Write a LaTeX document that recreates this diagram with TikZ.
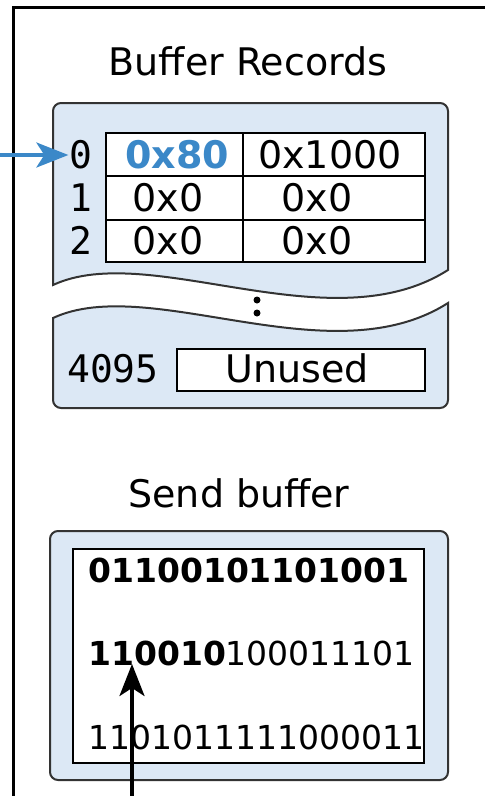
\documentclass[tikz,border=0pt]{standalone}
\usepackage{fontspec}
\setmainfont{DejaVu Sans}
\setmonofont{DejaVu Sans Mono}
\usetikzlibrary{arrows.meta}
\definecolor{ptrblue}{HTML}{3B88C8}
\definecolor{boxfill}{HTML}{DCE8F5}
\definecolor{boxline}{HTML}{333333}
\tikzset{
  panel/.style={draw=boxline, line width=2pt, fill=boxfill},
  cellbox/.style={draw=black, line width=2.2pt, fill=white},
  big/.style={inner sep=0pt, font=\fontsize{38}{40}\selectfont},
  idx/.style={big, font=\fontsize{38}{40}\selectfont\ttfamily, anchor=base},
  celltxt/.style={big, anchor=base},
  bits/.style={inner sep=0pt, font=\fontsize{33}{35}\selectfont, anchor=base west},
  ptr/.style={line width=3.5pt, -{Stealth[length=32pt,width=25pt,inset=8pt]}},
}
\begin{document}
\begin{tikzpicture}[x=1pt,y=-1pt]
\useasboundingbox (0,0) rectangle (485,796);
\clip (0,0) rectangle (485,796);
% outer frame
\draw[line width=3pt] (13,810) -- (13,7) -- (500,7);
% titles
\node[celltxt] (t1) at (248,75) {Buffer Records};
\node[celltxt] (t2) at (239,507) {Send buffer};
% buffer records panel, upper part
\path[panel] (448,270) .. controls (330,345) and (150,240) .. (53,285)
  -- (53,111) arc[start angle=180,end angle=270,radius=8] -- (440,103)
  arc[start angle=270,end angle=360,radius=8] -- cycle;
% lower part
\path[panel] (448,303) .. controls (330,378) and (150,273) .. (53,318)
  -- (53,400) arc[start angle=180,end angle=90,radius=8] -- (440,408)
  arc[start angle=90,end angle=0,radius=8] -- cycle;
% vertical dots
\fill (257,300) circle (3.5pt);
\fill (257,313) circle (3.5pt);
% table
\draw[cellbox] (106,133) rectangle (425,262);
\draw[line width=2.2pt] (106,176) -- (425,176) (106,220) -- (425,220) (243,133) -- (243,262);
\node[idx] (i0) at (81,168) {0};
\node[idx] (i1) at (81,211) {1};
\node[idx] (i2) at (81,254) {2};
\node[celltxt, text=ptrblue, font=\fontsize{38}{40}\selectfont\bfseries] (c00) at (177,168) {0x80};
\node[celltxt] (c01) at (330,168) {0x1000};
\node[celltxt] (c10) at (168,211) {0x0};
\node[celltxt] (c11) at (317,211) {0x0};
\node[celltxt] (c20) at (168,254) {0x0};
\node[celltxt] (c21) at (317,254) {0x0};
% last row
\node[idx] (i4095) at (113,382) {4095};
\draw[cellbox] (177,349) rectangle (425,391);
\node[celltxt] (unused) at (297,382) {Unused};
% blue pointer
\coordinate (bsrc) at (0,155);
\draw[ptr, ptrblue] (bsrc) -- ([xshift=-1pt]i0.west |- bsrc);
% send buffer
\path[panel, rounded corners=8pt] (50,531) rectangle (448,780);
\draw[cellbox] (73,549) rectangle (424,763);
\node[bits, font=\fontsize{33}{35}\selectfont\bfseries] (l1) at (88,582) {01100101101001};
\node[bits] (l2) at (88,665) {\textbf{110010}100011101};
\node[bits] (l3) at (88,749) {1101011111000011};
% black pointer
\coordinate (ksrc) at (132,800);
\coordinate (ktip) at (132,664);
\draw[ptr] (ksrc) -- (ktip);
\end{tikzpicture}
\end{document}
